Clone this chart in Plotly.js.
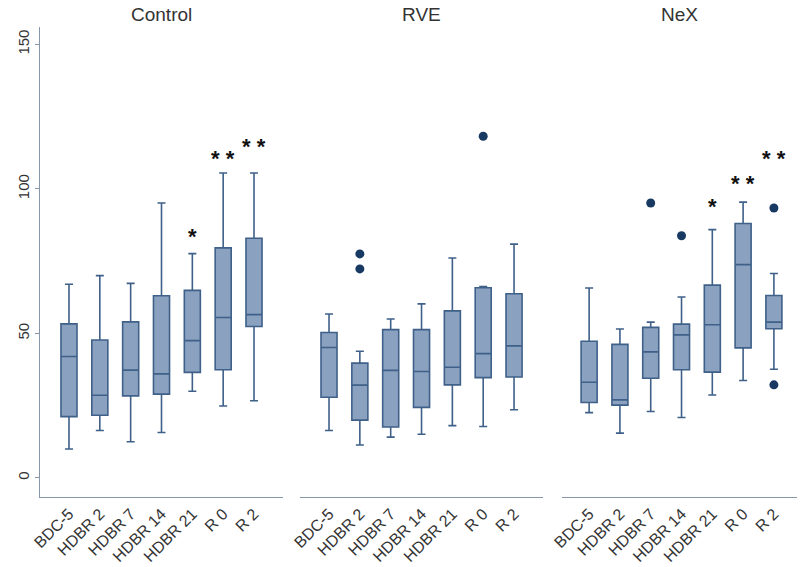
<!DOCTYPE html>
<html>
<head>
<meta charset="utf-8">
<script src="https://cdn.plot.ly/plotly-3.0.1.min.js"></script>
<style>html,body{margin:0;padding:0;background:#fff;}#chart{width:800px;height:567px;}</style>
</head>
<body>
<div id="chart"></div>
<script>
// Categories
var categories = ["BDC-5", "HDBR 2", "HDBR 7", "HDBR 14", "HDBR 21", "R 0", "R 2"];
var panelTitles = ["Control", "RVE", "NeX"];
var yTickVals = [0, 50, 100, 150];

// Control
var controlLower  = [10.0, 16.4, 12.5, 15.7, 30.0, 24.9, 26.7];
var controlQ1     = [21.2, 21.7, 28.4, 29.0, 36.5, 37.4, 52.4];
var controlMedian = [42.0, 28.6, 37.3, 36.0, 47.5, 55.5, 56.5];
var controlQ3     = [53.3, 47.7, 54.0, 63.0, 64.9, 79.6, 82.9];
var controlUpper  = [67.0, 70.0, 67.3, 95.1, 77.6, 105.5, 105.5];

// RVE
var rveLower  = [16.4, 11.4, 14.1, 15.1, 18.1, 17.8, 23.6];
var rveQ1     = [27.9, 20.0, 17.6, 24.4, 32.2, 34.7, 34.9];
var rveMedian = [45.1, 32.1, 37.2, 36.8, 38.3, 43.0, 45.7];
var rveQ3     = [50.3, 39.7, 51.3, 51.3, 57.8, 65.8, 63.7];
var rveUpper  = [56.7, 43.8, 55.0, 60.2, 76.1, 66.2, 80.9];
var rveOutlierX = ["HDBR 2", "HDBR 2", "R 0"];
var rveOutlierY = [77.5, 72.3, 118.2];

// NeX
var nexLower  = [22.6, 15.5, 23.0, 20.9, 28.7, 33.7, 37.6];
var nexQ1     = [26.1, 25.2, 34.5, 37.4, 36.6, 45.0, 51.6];
var nexMedian = [33.1, 27.0, 43.6, 49.5, 53.0, 73.8, 53.9];
var nexQ3     = [47.3, 46.2, 52.1, 53.2, 66.7, 88.0, 63.1];
var nexUpper  = [65.7, 51.5, 53.9, 62.6, 85.9, 95.4, 70.7];
var nexOutlierX = ["HDBR 7", "HDBR 14", "R 2", "R 2"];
var nexOutlierY = [95.1, 83.8, 93.4, 32.2];

// Significance marks
var controlStarX = ["HDBR 21", "R 0", "R 2"];
var controlStarY = [85.5, 112.6, 116.7];
var controlStarText = ["*", "* *", "* *"];
var nexStarX = ["HDBR 21", "R 0", "R 2"];
var nexStarY = [95.9, 104.0, 112.5];
var nexStarText = ["*", "* *", "* *"];

var boxFill = "#8aa1bf";
var boxLine = "#3f6089";
var outlierColor = "#173962";
var axisColor = "#8796a8";
var fontFam = "Liberation Sans, Arial, sans-serif";

function boxTrace(xa, lo, q1, med, q3, up) {
  return {
    type: "box", x: categories, xaxis: xa, yaxis: "y",
    lowerfence: lo, q1: q1, median: med, q3: q3, upperfence: up,
    fillcolor: boxFill, line: {color: boxLine, width: 1.6},
    width: 0.52, whiskerwidth: 0.5, boxpoints: false, hoverinfo: "skip",
    showlegend: false
  };
}
function outTrace(xa, xs, ys) {
  return {type: "scatter", mode: "markers", x: xs, y: ys, xaxis: xa, yaxis: "y",
    marker: {color: outlierColor, size: 9}, showlegend: false, hoverinfo: "skip"};
}

var data = [
  boxTrace("x", controlLower, controlQ1, controlMedian, controlQ3, controlUpper),
  boxTrace("x2", rveLower, rveQ1, rveMedian, rveQ3, rveUpper),
  boxTrace("x3", nexLower, nexQ1, nexMedian, nexQ3, nexUpper),
  outTrace("x2", rveOutlierX, rveOutlierY),
  outTrace("x3", nexOutlierX, nexOutlierY)
];

var annotations = [];
function addStars(xref, xs, ys, ts) {
  for (var i = 0; i < xs.length; i++) {
    annotations.push({x: xs[i], y: ys[i], xref: xref, yref: "y", text: "<b>" + ts[i] + "</b>",
      showarrow: false, yanchor: "middle", yshift: -6,
      font: {family: fontFam, size: 22, color: "#111111"}});
  }
}
addStars("x", controlStarX, controlStarY, controlStarText);
addStars("x3", nexStarX, nexStarY, nexStarText);

var titleX = [0.161, 0.504, 0.845];
for (var k = 0; k < panelTitles.length; k++) {
  annotations.push({x: titleX[k], y: 1.027, xref: "paper", yref: "paper", text: panelTitles[k],
    showarrow: false, xanchor: "center", yanchor: "middle",
    font: {family: fontFam, size: 19, color: "#333333"}});
}

function xAxis(domain, range) {
  return {
    domain: domain, anchor: "y", type: "category", categoryorder: "array", categoryarray: categories,
    range: range, tickangle: -45, ticks: "", showline: true, linecolor: axisColor, linewidth: 1.3,
    showgrid: false, zeroline: false, tickfont: {family: fontFam, size: 16, color: "#333333"}, fixedrange: true
  };
}

var layout = {
  width: 800, height: 567,
  margin: {l: 40, r: 3, t: 27, b: 70},
  paper_bgcolor: "#ffffff", plot_bgcolor: "#ffffff",
  showlegend: false,
  xaxis: xAxis([0, 0.321], [-0.94, 6.94]),
  xaxis2: xAxis([0.3435, 0.6645], [-0.94, 6.94]),
  xaxis3: xAxis([0.6896, 1.0], [-0.88, 6.75]),
  yaxis: {
    domain: [0, 1], anchor: "x", range: [-6.6, 156], tickvals: yTickVals,
    ticks: "outside", ticklen: 4, tickcolor: axisColor, tickangle: -90,
    showline: true, linecolor: axisColor, linewidth: 1.3, showgrid: false, zeroline: false,
    tickfont: {family: fontFam, size: 15, color: "#333333"}, fixedrange: true
  },
  annotations: annotations
};

Plotly.newPlot("chart", data, layout, {displayModeBar: false, staticPlot: true});
</script>
</body>
</html>
